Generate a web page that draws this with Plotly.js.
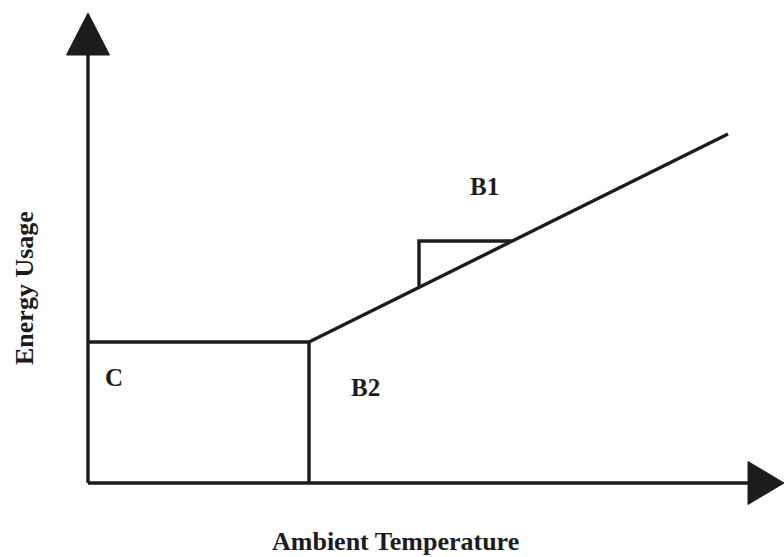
<!DOCTYPE html>
<html>
<head>
<meta charset="utf-8">
<script src="https://cdn.plot.ly/plotly-3.0.1.min.js"></script>
<style>html,body{margin:0;padding:0;background:#fff}#chart{width:784px;height:557px}</style>
</head>
<body>
<div id="chart"></div>
<script>
// Schematic change-point model (units are arbitrary, origin at axis crossing)
const baseLoad = 141;          // C: constant energy usage below balance point
const balanceTemp = 221;       // B2: balance point temperature
const maxTemp = 640;           // end of sloped line
const maxEnergy = 349;         // energy at end of sloped line
const slopeTriX = [331, 331, 424.5];   // B1 slope triangle
const slopeTriY = [195.6, 242, 242];
const yAxisLen = 428, yArrowTip = 470, xAxisLen = 660, xArrowTip = 696, arrowHalf = 21.5;
const labels = ["C", "B2", "B1"];
const labelX = [26, 277, 396];
const labelY = [106, 96, 297];

const ink = "#1c1c1c";
const lineStyle = {color: ink, width: 3.4};
const traces = [
  // axes
  {x: [0, 0], y: [0, yAxisLen], mode: "lines", line: lineStyle},
  {x: [0, xAxisLen], y: [0, 0], mode: "lines", line: lineStyle},
  // arrowheads
  {x: [-arrowHalf, arrowHalf, 0, -arrowHalf], y: [yAxisLen, yAxisLen, yArrowTip, yAxisLen], mode: "lines", fill: "toself", fillcolor: ink, line: {color: ink, width: 1}},
  {x: [xAxisLen, xAxisLen, xArrowTip, xAxisLen], y: [-arrowHalf, arrowHalf, 0, -arrowHalf], mode: "lines", fill: "toself", fillcolor: ink, line: {color: ink, width: 1}},
  // model
  {x: [0, balanceTemp, balanceTemp], y: [baseLoad, baseLoad, 0], mode: "lines", line: lineStyle},
  {x: [balanceTemp, maxTemp], y: [baseLoad, maxEnergy], mode: "lines", line: lineStyle},
  {x: slopeTriX, y: slopeTriY, mode: "lines", line: lineStyle}
];

const fontBold = {family: "Liberation Serif, Times New Roman, serif", size: 25, color: ink, weight: 700};
const fontTitle = {family: "Liberation Serif, Times New Roman, serif", size: 26, color: ink, weight: 700};
const annotations = labels.map((t, i) => ({x: labelX[i], y: labelY[i], xref: "x", yref: "y", text: "<b>" + t + "</b>", showarrow: false, font: fontBold}));
annotations.push({x: 307, y: -58, xref: "x", yref: "y", text: "<b>Ambient Temperature</b>", showarrow: false, font: fontTitle});
annotations.push({x: -64, y: 195, xref: "x", yref: "y", text: "<b>Energy Usage</b>", showarrow: false, textangle: -90, font: fontTitle});

const layout = {
  width: 784, height: 557,
  margin: {l: 0, r: 0, t: 0, b: 0},
  paper_bgcolor: "#fff", plot_bgcolor: "#fff",
  showlegend: false,
  xaxis: {range: [-88, 696], visible: false, fixedrange: true},
  yaxis: {range: [-74, 483], visible: false, fixedrange: true},
  annotations: annotations
};
Plotly.newPlot("chart", traces, layout, {displayModeBar: false, staticPlot: true});
</script>
</body>
</html>
